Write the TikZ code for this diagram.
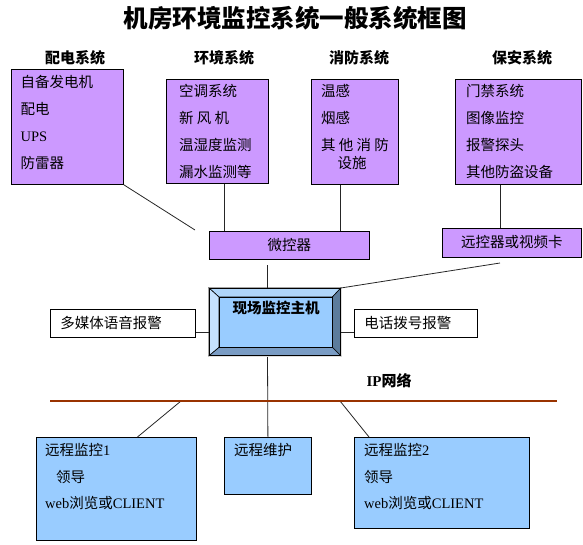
\documentclass[tikz,border=0pt]{standalone}
\usepackage{fontspec}
\setmainfont{Liberation Serif}
\newfontfamily\cjk{Noto Sans CJK SC}
\usepackage{tikz}
\usetikzlibrary{calc}
\definecolor{boxpurple}{HTML}{CC99FF}
\definecolor{boxblue}{HTML}{99CCFF}
\definecolor{netbrown}{HTML}{993300}
\definecolor{bevtop}{HTML}{B0D6FA}
\definecolor{bevleft}{HTML}{C6E2FF}
\definecolor{bevright}{HTML}{5C7C9C}
\definecolor{bevbottom}{HTML}{7A9CC4}
\tikzset{
  sysbox/.style={draw, fill=boxpurple, line width=0.8pt, anchor=north west, inner sep=0pt},
  remotebox/.style={draw, fill=boxblue, line width=0.8pt, anchor=north west, inner sep=0pt},
  alarmbox/.style={draw, fill=white, line width=0.8pt, anchor=north west, inner xsep=10pt,
                   inner ysep=0pt, align=left},
  item/.style={font=\cjk\fontsize{14.5}{16}\selectfont, inner sep=0pt,
               text height=12pt, text depth=2pt, anchor=west},
  head/.style={font=\cjk\bfseries\fontsize{15}{17}\selectfont, inner sep=0pt},
  link/.style={line width=0.8pt, black!85},
}

\begin{document}
\begin{tikzpicture}[x=1pt, y=-1pt]
  \useasboundingbox (0,0) rectangle (583,545);
  \node[head, font=\cjk\bfseries\fontsize{24.5}{28}\selectfont] (title) at (295,18)
       {机房环境监控系统一般系统框图};

  % subsystems
  \foreach \x/\t [count=\i] in {75/配电系统, 224/环境系统, 359/消防系统, 522/保安系统}
    \node[head] (head\i) at (\x,58) {\t};

  \node[sysbox, minimum width=112pt, minimum height=115pt] (power) at (11,69) {};
  \node[sysbox, minimum width=102pt, minimum height=104pt] (env) at (166,79) {};
  \node[sysbox, minimum width=87pt, minimum height=105pt] (fire) at (311,79) {};
  \node[sysbox, minimum width=126pt, minimum height=105pt] (sec) at (455,79) {};

  \foreach \t [count=\i] in {自备发电机, 配电, {\rmfamily UPS}, 防雷器}
    \node[item] (power\i) at (20.5,{83+26.7*(\i-1)}) {\t};
  \foreach \t [count=\i] in {空调系统, 新 风 机, 温湿度监测, 漏水监测等}
    \node[item] (env\i) at (179,{92+26.7*(\i-1)}) {\t};
  \foreach \t [count=\i] in {温感, 烟感, 其 他 消 防}
    \node[item] (fire\i) at (321,{92+26.9*(\i-1)}) {\t};
  \node[item, anchor=center] (fire4) at (352,164) {设施};
  \foreach \t [count=\i] in {门禁系统, 图像监控, 报警探头, 其他防盗设备}
    \node[item] (sec\i) at (466,{92+26.7*(\i-1)}) {\t};

  \node[sysbox, minimum width=160pt, minimum height=28pt, item, anchor=north west,
        inner sep=0pt] (mcu) at (209,231) {微控器};
  \node[sysbox, minimum width=139pt, minimum height=29pt, item, anchor=north west,
        inner sep=0pt] (rc) at (442,228) {远控器或视频卡};

  % host with bevelled frame
  \node[draw, fill=boxblue, line width=0.8pt, anchor=north west, inner sep=0pt,
        minimum width=131pt, minimum height=67pt] (host) at (209,288) {};
  \node[anchor=north west, inner sep=0pt, minimum width=113pt, minimum height=50pt]
       (hostin) at (219,297) {};
  \filldraw[fill=bevtop, line width=0.6pt] (host.north west) -- (host.north east)
       -- (hostin.north east) -- (hostin.north west) -- cycle;
  \filldraw[fill=bevleft, line width=0.6pt] (host.north west) -- (hostin.north west)
       -- (hostin.south west) -- (host.south west) -- cycle;
  \filldraw[fill=bevright, line width=0.6pt] (host.north east) -- (host.south east)
       -- (hostin.south east) -- (hostin.north east) -- cycle;
  \filldraw[fill=bevbottom, line width=0.6pt] (host.south west) -- (hostin.south west)
       -- (hostin.south east) -- (host.south east) -- cycle;
  \draw[line width=0.8pt] (host.north west) rectangle (host.south east);
  \draw[line width=0.8pt] (hostin.north west) rectangle (hostin.south east);
  \node[head, font=\cjk\bfseries\fontsize{14.5}{16}\selectfont] (hosttxt) at (276,308)
       {现场监控主机};

  \node[alarmbox, item, anchor=north west, inner xsep=10pt, inner ysep=0pt,
        text width=125pt, minimum height=28pt] (mm) at (50,309) {多媒体语音报警};
  \node[alarmbox, item, anchor=north west, inner xsep=10pt, inner ysep=0pt,
        text width=103pt, minimum height=28pt] (tel) at (354,309) {电话拨号报警};

  % remote side
  \node[head] (iplabel) at (389,381) {{\rmfamily IP}网络};
  \node[remotebox, minimum width=160pt, minimum height=103pt] (r1) at (35.5,437) {};
  \node[remotebox, minimum width=87pt, minimum height=57pt] (rm) at (224,437) {};
  \node[remotebox, minimum width=175pt, minimum height=91pt] (r2) at (354,437) {};
  \node[item] (r1a) at (45,450) {远程监控{\rmfamily 1}};
  \node[item] (r1b) at (56,477) {领导};
  \node[item] (r1c) at (45,503) {{\rmfamily web}浏览或{\rmfamily CLIENT}};
  \node[item] (rma) at (234,450) {远程维护};
  \node[item] (r2a) at (364,450) {远程监控{\rmfamily 2}};
  \node[item] (r2b) at (364,477) {领导};
  \node[item] (r2c) at (364,503) {{\rmfamily web}浏览或{\rmfamily CLIENT}};

  % connectors
  \coordinate (powend) at (195,230);
  \coordinate (envdrop) at ($(env.south)+(7,0)$);
  \coordinate (firedrop) at ($(fire.south)+(-14.5,0)$);
  \coordinate (secdrop) at ($(sec.south)+(-18,0)$);
  \coordinate (mcudrop) at (267.5,265);
  \coordinate (rcdrop) at (500,263);
  \coordinate (hostdrop) at (267.5,357);
  \coordinate (mmlink) at ($(mm.south east)+(0,-5)$);
  \coordinate (tellink) at ($(tel.south west)+(0,-5)$);
  \draw[link] (power.south east) -- (powend);
  \draw[link] (envdrop) -- (envdrop |- mcu.north);
  \draw[link] (firedrop) -- (firedrop |- mcu.north);
  \draw[link] (secdrop) -- (secdrop |- rc.north);
  \draw[link] (mcudrop) -- (mcudrop |- host.north);
  \draw[link] (rcdrop) -- (host.north east);
  \draw[link] (mmlink) -- (mmlink -| host.west);
  \draw[link] (tellink) -- (tellink -| host.east);
  \draw[link] (hostdrop) -- (rm.north);

  \coordinate (netL) at (50,401);
  \coordinate (netR) at (557,401);
  \coordinate (tap1) at (181,401);
  \coordinate (tap2) at (340,401);
  \draw[link] (tap1) -- ($(r1.north west)+(102,0)$);
  \draw[link] (tap2) -- ($(r2.north west)+(15,0)$);
  \draw[netbrown, line width=2.6pt] (netL) -- (netR);
\end{tikzpicture}
\end{document}
